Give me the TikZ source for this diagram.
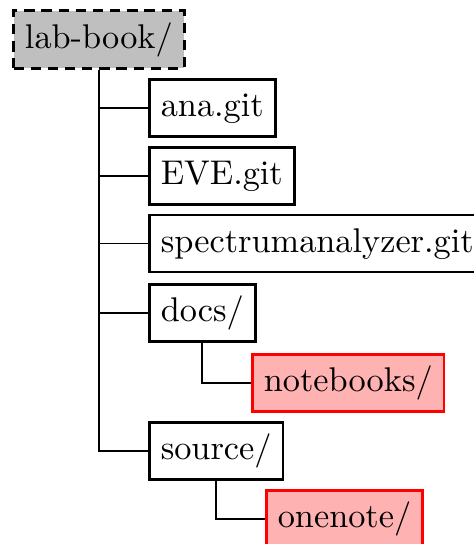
\documentclass[tikz,border=0pt]{standalone}
\begin{document}
\begin{tikzpicture}[x=0.2915pt,y=-0.2915pt,
  entry/.style={draw,line width=0.8pt,inner sep=0.3333em,text height=7.5pt,text depth=2.5pt,anchor=west},
  rootdir/.style={entry,line width=0.9pt,dash pattern=on 3pt off 2pt,fill=black!25},
  hidden/.style={entry,draw=red,fill=red!30},
  link/.style={line width=0.5pt}]
\useasboundingbox (0,0) rectangle (474,544);
\node[rootdir] (root) at (12,39.5) {lab-book/};
\node[entry] (ana) at (148,108) {ana.git};
\node[entry] (eve) at (148,176) {EVE.git};
\node[entry] (spec) at (148,243.5) {spectrumanalyzer.git};
\node[entry] (docs) at (148,313) {docs/};
\node[hidden] (nb) at (251,383) {notebooks/};
\node[entry] (src) at (148,451) {source/};
\node[hidden] (one) at (265,519) {onenote/};
% trunk and branches of the top folder
\draw[link] (root.south) |- (src.west);
\foreach \n in {ana,eve,spec,docs}
  \draw[link] (root.south |- \n.west) -- (\n.west);
% subfolders
\draw[link] (docs.south) |- (nb.west);
\draw[link] (src.south) |- (one.west);
\end{tikzpicture}
\end{document}
